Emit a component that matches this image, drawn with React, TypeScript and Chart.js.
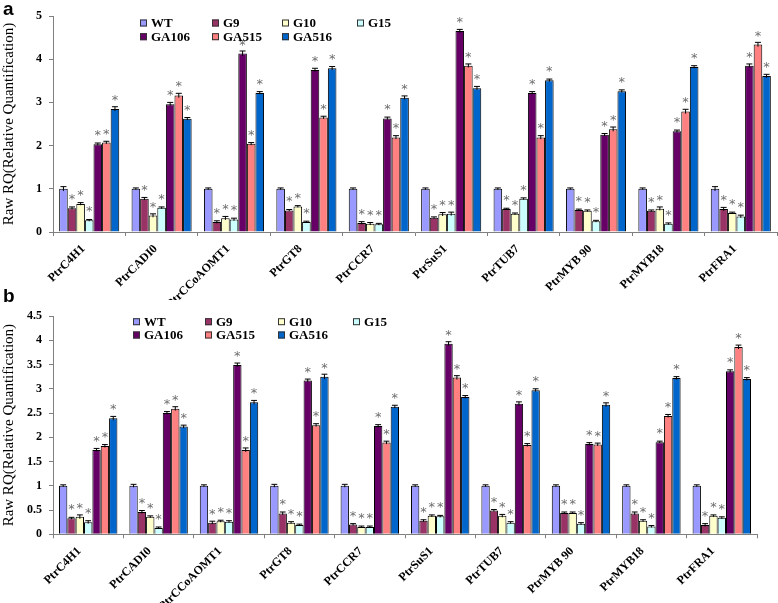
import React, { useEffect, useRef } from "react";
import { Chart, registerables } from "chart.js";
Chart.register(...registerables);

const categories = ["PtrC4H1", "PtrCADI0", "PtrCCoAOMT1", "PtrGT8", "PtrCCR7", "PtrSuS1", "PtrTUB7", "PtrMYB 90", "PtrMYB18", "PtrFRA1"];
const seriesNames = ["WT", "G9", "G10", "G15", "GA106", "GA515", "GA516"];
const seriesColors = ["#9999FF", "#993366", "#FFFFCC", "#CCFFFF", "#660066", "#FF8080", "#0066CC"];
const seriesStars = [false, true, true, true, true, true, true];

// Panel a values
const aWT = [1.0, 1.0, 1.0, 1.0, 1.0, 1.0, 1.0, 1.0, 1.0, 1.0];
const aG9 = [0.55, 0.77, 0.23, 0.5, 0.21, 0.33, 0.53, 0.51, 0.49, 0.53];
const aG10 = [0.65, 0.38, 0.32, 0.59, 0.19, 0.41, 0.42, 0.49, 0.54, 0.44];
const aG15 = [0.27, 0.56, 0.29, 0.23, 0.18, 0.42, 0.77, 0.25, 0.19, 0.36];
const aGA106 = [2.03, 2.96, 4.13, 3.75, 2.63, 4.65, 3.22, 2.25, 2.33, 3.85];
const aGA515 = [2.07, 3.16, 2.04, 2.65, 2.19, 3.85, 2.19, 2.38, 2.79, 4.34];
const aGA516 = [2.85, 2.62, 3.22, 3.79, 3.11, 3.33, 3.51, 3.26, 3.82, 3.61];
// Panel a errors
const aWTErr = [0.05, 0.02, 0.02, 0.02, 0.02, 0.02, 0.02, 0.02, 0.02, 0.05];
const aG9Err = [0.03, 0.03, 0.03, 0.02, 0.03, 0.02, 0.02, 0.02, 0.02, 0.04];
const aG10Err = [0.03, 0.04, 0.04, 0.02, 0.03, 0.04, 0.02, 0.02, 0.04, 0.02];
const aG15Err = [0.02, 0.02, 0.03, 0.02, 0.02, 0.04, 0.02, 0.02, 0.02, 0.03];
const aGA106Err = [0.03, 0.04, 0.06, 0.04, 0.03, 0.04, 0.03, 0.03, 0.03, 0.04];
const aGA515Err = [0.03, 0.05, 0.03, 0.03, 0.04, 0.04, 0.04, 0.05, 0.05, 0.05];
const aGA516Err = [0.05, 0.03, 0.03, 0.04, 0.04, 0.04, 0.03, 0.03, 0.03, 0.04];

// Panel b values
const bWT = [1.0, 1.0, 1.0, 1.0, 1.0, 1.0, 1.0, 1.0, 1.0, 1.0];
const bG9 = [0.33, 0.46, 0.24, 0.43, 0.2, 0.28, 0.49, 0.44, 0.43, 0.19];
const bG10 = [0.36, 0.36, 0.27, 0.24, 0.15, 0.38, 0.38, 0.44, 0.28, 0.38];
const bG15 = [0.25, 0.13, 0.26, 0.19, 0.15, 0.37, 0.24, 0.22, 0.16, 0.34];
const bGA106 = [1.74, 2.5, 3.49, 3.17, 2.23, 3.93, 2.69, 1.86, 1.9, 3.36];
const bGA515 = [1.82, 2.59, 1.74, 2.25, 1.89, 3.23, 1.84, 1.85, 2.44, 3.86];
const bGA516 = [2.39, 2.22, 2.72, 3.25, 2.63, 2.83, 2.97, 2.67, 3.22, 3.2];
// Panel b errors
const bWTErr = [0.02, 0.03, 0.02, 0.03, 0.03, 0.02, 0.02, 0.02, 0.02, 0.02];
const bG9Err = [0.02, 0.03, 0.03, 0.03, 0.02, 0.02, 0.02, 0.02, 0.03, 0.03];
const bG10Err = [0.04, 0.02, 0.02, 0.02, 0.02, 0.02, 0.03, 0.02, 0.02, 0.02];
const bG15Err = [0.03, 0.02, 0.02, 0.02, 0.02, 0.02, 0.02, 0.02, 0.02, 0.02];
const bGA106Err = [0.03, 0.03, 0.04, 0.03, 0.03, 0.04, 0.04, 0.03, 0.02, 0.03];
const bGA515Err = [0.03, 0.04, 0.04, 0.03, 0.03, 0.04, 0.03, 0.03, 0.03, 0.04];
const bGA516Err = [0.04, 0.03, 0.04, 0.05, 0.03, 0.03, 0.03, 0.04, 0.03, 0.03];

const yTicksA = [0, 1, 2, 3, 4, 5];
const yTicksB = [0, 0.5, 1, 1.5, 2, 2.5, 3, 3.5, 4, 4.5];
const yTitle = "Raw RQ(Relative Quantification)";

const SERIF = '"Liberation Serif", "Times New Roman", serif';

const errorStarPlugin = {
  id: "errStars",
  afterDatasetsDraw(chart: any) {
    const ctx = chart.ctx;
    const ys = chart.scales.y;
    chart.data.datasets.forEach((ds: any, di: number) => {
      const meta = chart.getDatasetMeta(di);
      meta.data.forEach((bar: any, i: number) => {
        const v = ds.data[i];
        const e = ds.errors[i];
        const x = bar.x;
        const top = ys.getPixelForValue(v + e);
        const bot = ys.getPixelForValue(v - e);
        const w = bar.width * 0.7;
        ctx.save();
        ctx.strokeStyle = "#000";
        ctx.lineWidth = 1;
        ctx.beginPath();
        ctx.moveTo(x, bot);
        ctx.lineTo(x, top);
        ctx.moveTo(x - w / 2, top);
        ctx.lineTo(x + w / 2, top);
        ctx.stroke();
        if (ds.star) {
          ctx.fillStyle = "#6e6e6e";
          ctx.font = '13px "DejaVu Sans", sans-serif';
          ctx.textAlign = "center";
          ctx.textBaseline = "alphabetic";
          ctx.fillText("*", x, ys.getPixelForValue(v) - 5);
        }
        ctx.restore();
      });
    });
  },
};

const gridLegendPlugin = {
  id: "gridLegend",
  afterDraw(chart: any, _args: any, opts: any) {
    const ctx = chart.ctx;
    const cols: number[] = opts.cols;
    const rows: number[] = opts.rows;
    ctx.save();
    ctx.font = "bold 13px " + SERIF;
    ctx.textBaseline = "middle";
    ctx.textAlign = "left";
    chart.data.datasets.forEach((ds: any, i: number) => {
      const r = i < 4 ? 0 : 1;
      const c = i < 4 ? i : i - 4;
      const x = cols[c];
      const y = rows[r];
      ctx.fillStyle = ds.backgroundColor;
      ctx.fillRect(x, y - 3.5, 7, 7);
      ctx.strokeStyle = "#333";
      ctx.lineWidth = 1;
      ctx.strokeRect(x + 0.5, y - 3.5 + 0.5, 6, 6);
      ctx.fillStyle = "#000";
      ctx.fillText(ds.label, x + 11, y + 0.5);
    });
    ctx.restore();
  },
};

function makeChart(
  canvas: HTMLCanvasElement,
  series: number[][],
  errors: number[][],
  ticks: number[],
  padRight: number,
  xHeight: number,
  legendCols: number[],
  legendRows: number[],
  labelOffset: number
) {
  const datasets = series.map((d, i) => ({
    label: seriesNames[i],
    data: d,
    errors: errors[i],
    star: seriesStars[i],
    backgroundColor: seriesColors[i],
    borderColor: "#000",
    borderWidth: 1,
    categoryPercentage: 0.83,
    barPercentage: 1.0,
  }));
  return new Chart(canvas, {
    type: "bar",
    data: { labels: categories, datasets: datasets as any },
    options: {
      animation: false,
      responsive: false,
      layout: { padding: { left: 0, right: padRight, top: 16, bottom: 0 } },
      plugins: {
        legend: { display: false },
        tooltip: { enabled: false },
        gridLegend: { cols: legendCols, rows: legendRows },
      } as any,
      scales: {
        x: {
          grid: { drawOnChartArea: false, drawTicks: true, tickLength: 4, color: "#808080" },
          border: { color: "#808080", width: 1 },
          ticks: {
            color: "#000",
            font: { family: SERIF, size: 12, weight: "bold" },
            maxRotation: 45,
            minRotation: 45,
            autoSkip: false,
            padding: 6,
            labelOffset: labelOffset,
          },
          afterFit: (s: any) => {
            s.height = xHeight;
          },
        },
        y: {
          min: ticks[0],
          max: ticks[ticks.length - 1],
          afterBuildTicks: (s: any) => {
            s.ticks = ticks.map((v) => ({ value: v }));
          },
          grid: { drawOnChartArea: false, drawTicks: true, tickLength: 4, color: "#808080" },
          border: { color: "#808080", width: 1 },
          ticks: {
            color: "#000",
            font: { family: SERIF, size: 12, weight: "bold" },
            padding: 7,
            callback: (v: any) => String(v),
          },
          title: {
            display: true,
            text: yTitle,
            color: "#000",
            font: { family: SERIF, size: 15, weight: "normal" },
            padding: { top: 0, bottom: 0 },
          },
          afterFit: (s: any) => {
            s.width = 53;
          },
        },
      },
    } as any,
    plugins: [errorStarPlugin, gridLegendPlugin],
  });
}

export default function App() {
  const refA = useRef<HTMLCanvasElement>(null);
  const refB = useRef<HTMLCanvasElement>(null);
  useEffect(() => {
    const cA = makeChart(
      refA.current!,
      [aWT, aG9, aG10, aG15, aGA106, aGA515, aGA516],
      [aWTErr, aG9Err, aG10Err, aG15Err, aGA106Err, aGA515Err, aGA516Err],
      yTicksA,
      1,
      68,
      [140, 212, 282, 357],
      [23, 36.7],
      -6
    );
    const cB = makeChart(
      refB.current!,
      [bWT, bG9, bG10, bG15, bGA106, bGA515, bGA516],
      [bWTErr, bG9Err, bG10Err, bG15Err, bGA106Err, bGA515Err, bGA516Err],
      yTicksB,
      21,
      68.7,
      [133, 205, 278, 353],
      [21.7, 35],
      -9
    );
    return () => {
      cA.destroy();
      cB.destroy();
    };
  }, []);
  const labelStyle: React.CSSProperties = {
    position: "absolute",
    left: 3,
    fontFamily: '"Liberation Sans", Arial, sans-serif',
    fontWeight: "bold",
    fontSize: 19,
    lineHeight: "19px",
    color: "#000",
  };
  return (
    <div style={{ position: "absolute", left: 0, top: 0, width: 778, height: 603, background: "#fff", overflow: "hidden" }}>
      <canvas ref={refA} width={778} height={300} style={{ position: "absolute", left: 0, top: 0 }} />
      <canvas ref={refB} width={778} height={303} style={{ position: "absolute", left: 0, top: 300 }} />
      <div style={{ ...labelStyle, top: -1 }}>a</div>
      <div style={{ ...labelStyle, top: 286 }}>b</div>
    </div>
  );
}
